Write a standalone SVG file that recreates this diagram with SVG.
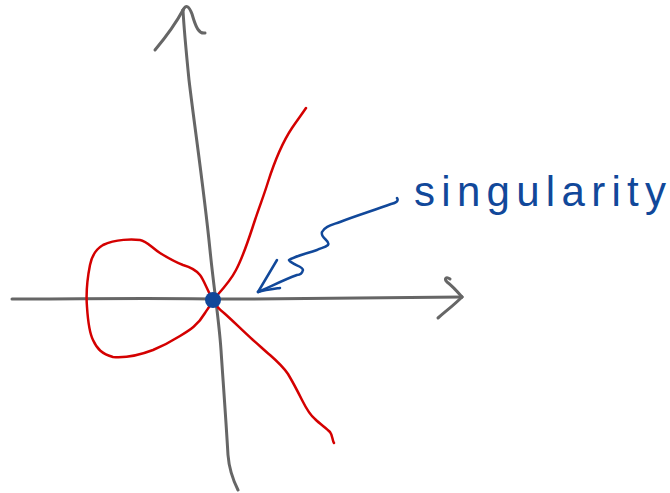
<svg xmlns="http://www.w3.org/2000/svg" width="670" height="493" viewBox="0 0 670 493">
<style>
.axis{fill:none;stroke:#666;stroke-width:3;stroke-linecap:round;stroke-linejoin:round}
.curve{fill:none;stroke:#d40000;stroke-width:2.5;stroke-linecap:round;stroke-linejoin:round}
.pointer{fill:none;stroke:#11489a;stroke-width:2.5;stroke-linecap:round;stroke-linejoin:round}
.label{font-family:"Liberation Sans",Arial,sans-serif;font-size:42px;fill:#11489a}
</style>
<rect width="670" height="493" fill="#fff"/>
<g id="axes">
<g id="y-axis">
<path class="axis" d="M238,490 C232,478 229,468 228,455 C226,420 223,380 221,350 C219,320 214,290 210,250 C204,190 195,130 189,80 C186,50 184,30 183,10"/>
<path class="axis" d="M183,10 C175,25 165,38 155,50"/>
<path class="axis" d="M183,10 C186,4 189,6 192,14 C196,28 199,34 205,33"/>
</g>
<g id="x-axis">
<path class="axis" d="M12,299 C80,299 150,298 213,299 C300,299 390,298 462,297"/>
<path class="axis" d="M462,297 C456,290 451,285 447,282 C444,279 446,276 450,279"/>
<path class="axis" d="M462,297 C454,305 446,311 438,318"/>
</g>
</g>
<g id="curve">
<path class="curve" d="M213,300 C208,292 204,280 200,275 C196,270 190,267 183,265 C175,262 168,258 160,253 C152,248 147,241 140,240 C132,239 116,239 103,245 C96,249 92,255 90,265 C87,280 86,295 87,307 C88,322 89,332 93,340 C97,349 102,354 113,357 C125,358 140,355 153,350 C165,345 172,341 180,336 C190,330 198,325 205,313 C209,307 212,303 213,300"/>
<path class="curve" d="M213,300 C220,292 230,282 236,270 C244,255 250,235 255,220 C260,205 264,195 268,182 C275,160 284,140 292,128 C298,119 302,114 306,108"/>
<path class="curve" d="M213,300 C216,306 220,310 224,313 C232,320 243,331 253,340 C260,346 265,351 270,355 C278,362 284,368 288,374 C294,384 297,390 302,400 C307,410 310,415 315,419 C320,424 326,428 330,432 C333,436 332,440 334,443"/>
</g>
<g id="singularity">
<circle cx="213" cy="300" r="8" fill="#11489a"/>
</g>
<g id="connectors">
<path class="pointer" d="M397,198 C399,201 396,203 391,204 C375,210 355,216 340,222 C332,225 325,226 322,232 C320,238 331,241 328,245 C325,248 320,248 317,250 C305,254 295,256 289,260 C292,265 303,266 303,270 C302,274 299,275 297,275 C283,280 270,287 258,292"/>
<path class="pointer" d="M258,292 C264,282 271,270 277,260"/>
<path class="pointer" d="M258,292 C265,290 273,289 280,288"/>
</g>
<g id="label">
<text class="label" x="414" y="206" textLength="252" lengthAdjust="spacing">singularity</text>
</g>
</svg>
